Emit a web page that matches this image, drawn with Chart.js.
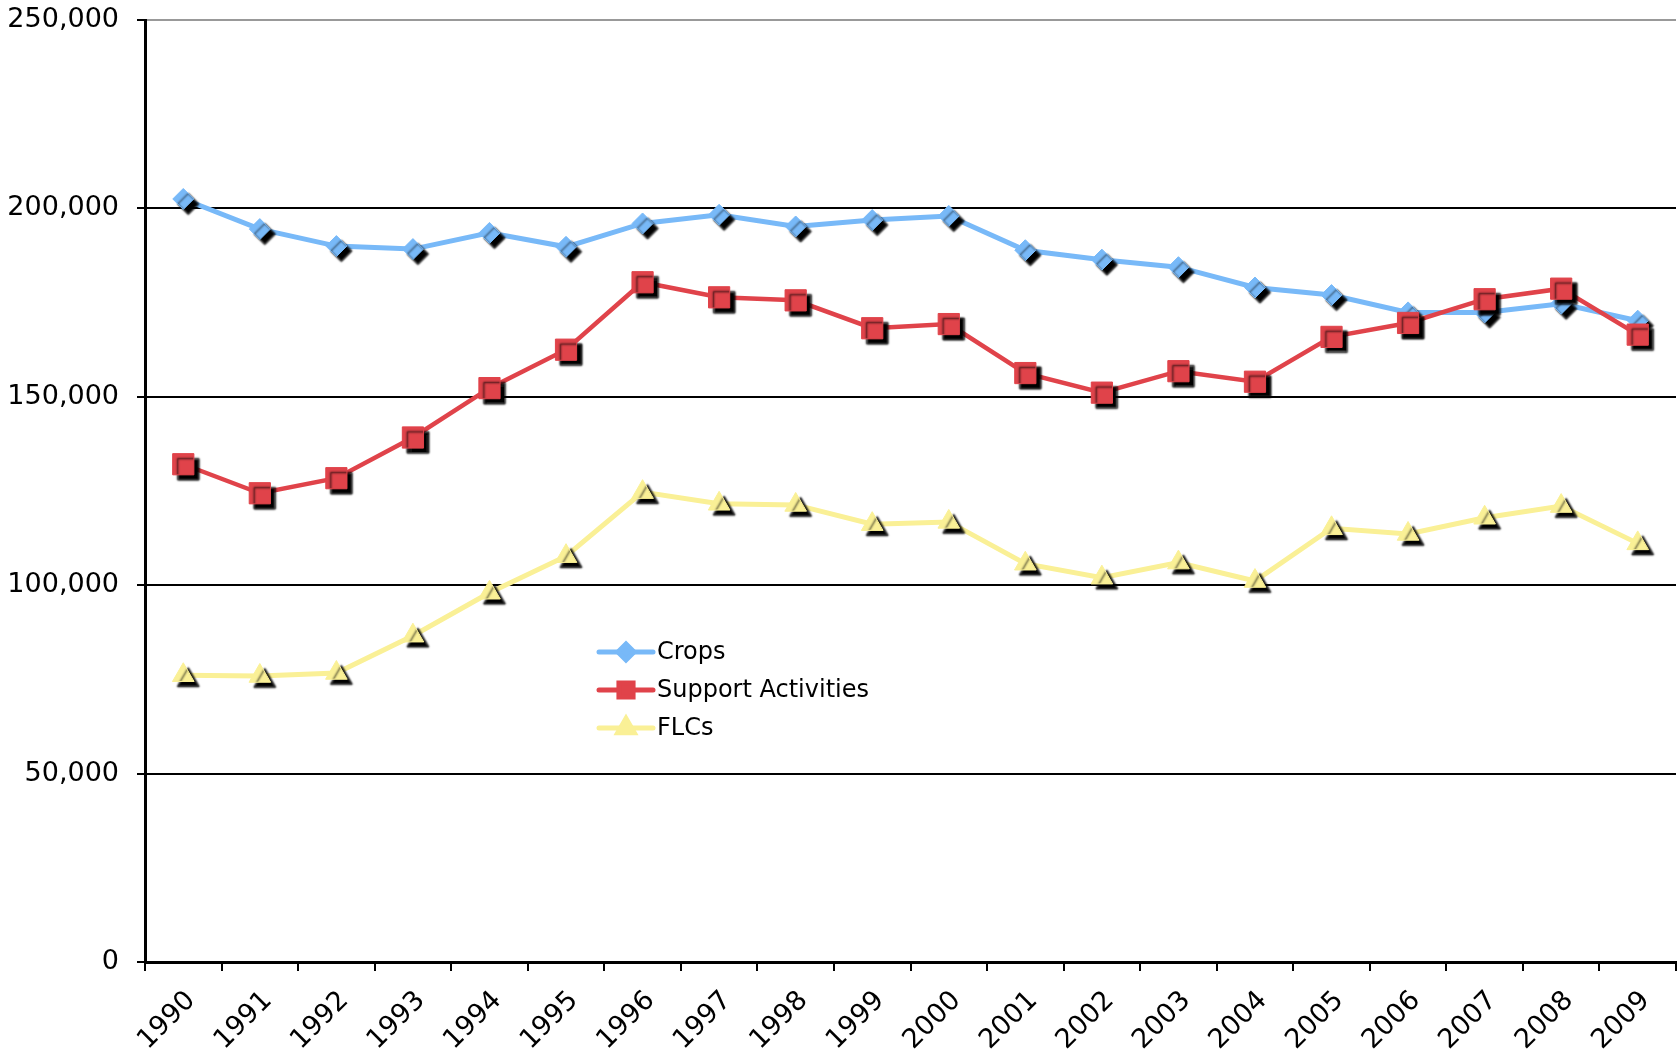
<!DOCTYPE html>
<html><head><meta charset="utf-8">
<script src="https://cdn.jsdelivr.net/npm/chart.js@4/dist/chart.umd.min.js"></script>
<style>html,body{margin:0;padding:0;background:#fff}canvas{display:block}</style>
</head><body>
<canvas id="c" width="1678" height="1055"></canvas>
<script>
const years = ['1990','1991','1992','1993','1994','1995','1996','1997','1998','1999','2000','2001','2002','2003','2004','2005','2006','2007','2008','2009'];
const crops = [202500,194500,190000,189200,193500,189800,196000,198300,195200,196900,198000,188900,186400,184400,179000,177000,172400,172400,174700,170200];
const support = [132100,124400,128400,139200,152300,162500,180400,176400,175600,168200,169300,156300,151100,156800,154000,165900,169600,175900,178700,166500];
const flcs = [76100,75900,76700,86600,98000,107700,124700,121600,121300,116200,116800,105700,102000,106000,101100,115100,113600,117900,121000,111100];
const seriesNames = ['Crops','Support Activities','FLCs'];
const yTicks = [0,50000,100000,150000,200000,250000];

const FONT = 'DejaVu Sans, Verdana, sans-serif';

// black drop shadow on markers only
const PointEl = Chart.registry.getElement('point');
const origDraw = PointEl.prototype.draw;
PointEl.prototype.draw = function(ctx, area){
  ctx.save();
  ctx.shadowColor = 'rgba(0,0,0,1)';
  ctx.shadowOffsetX = 5; ctx.shadowOffsetY = 5; ctx.shadowBlur = 2;
  origDraw.call(this, ctx, area);
  ctx.restore();
};

const inlineLegend = {
  id: 'inlineLegend',
  afterDraw(chart, args, opts){
    const ctx = chart.ctx;
    ctx.save();
    chart.data.datasets.forEach((ds, i) => {
      const y = opts.y + i*opts.rowGap;
      ctx.strokeStyle = ds.borderColor; ctx.lineWidth = 5; ctx.lineCap = 'round';
      ctx.beginPath(); ctx.moveTo(opts.x, y); ctx.lineTo(opts.x + opts.lineLen, y); ctx.stroke();
      ctx.fillStyle = ds.borderColor; ctx.strokeStyle = ds.borderColor;
      Chart.helpers.drawPoint(ctx, {pointStyle: ds.pointStyle, radius: opts.radius[i], rotation: 0, borderWidth: 1}, opts.x + opts.lineLen/2, y);
      ctx.fillStyle = '#000'; ctx.font = '24px ' + FONT; ctx.textBaseline = 'middle'; ctx.textAlign = 'left';
      ctx.fillText(ds.label, opts.x + opts.lineLen + 4, y + 1);
    });
    ctx.restore();
  }
};

new Chart(document.getElementById('c'), {
  type: 'line',
  data: {
    labels: years,
    datasets: [
      {label: seriesNames[0], data: crops, borderColor: '#78B9F8', backgroundColor: '#78B9F8', borderWidth: 5, pointStyle: 'rectRot', pointRadius: 10.5, pointBorderWidth: 1, tension: 0, order: 1, clip: false},
      {label: seriesNames[1], data: support, borderColor: '#E0434A', backgroundColor: '#E0434A', borderWidth: 4.5, pointStyle: 'rect', pointRadius: 15, pointBorderWidth: 1, tension: 0, order: 0, clip: false},
      {label: seriesNames[2], data: flcs, borderColor: '#FAF096', backgroundColor: '#FAF096', borderWidth: 5, pointStyle: 'triangle', pointRadius: 12.5, pointBorderWidth: 1, tension: 0, order: 2, clip: false}
    ]
  },
  options: {
    responsive: false, animation: false, devicePixelRatio: 1,
    layout: {autoPadding: false, padding: {top: 20, right: 2, left: 0, bottom: 0}},
    plugins: {
      legend: {display: false}, tooltip: {enabled: false},
      inlineLegend: {x: 599, y: 652, rowGap: 38, lineLen: 54, radius: [8, 10, 9.5]}
    },
    scales: {
      x: {
        type: 'category', offset: true,
        grid: {offset: true, drawOnChartArea: true,
          color: c => c.index === years.length ? '#999' : 'rgba(0,0,0,0)',
          lineWidth: 2, tickColor: '#000', tickLength: 9, tickWidth: 2},
        border: {color: '#000', width: 3},
        ticks: {color: '#000', font: {family: FONT, size: 27}, maxRotation: 45, minRotation: 45, padding: 14, labelOffset: 8, autoSkip: false},
        afterFit: s => { s.height = 93; s.paddingLeft = 0; s.paddingRight = 0; }
      },
      y: {
        min: 0, max: 250000,
        afterBuildTicks: s => { s.ticks = yTicks.map(v => ({value: v})); },
        ticks: {color: '#000', font: {family: FONT, size: 27}, padding: 18, callback: v => Number(v).toLocaleString('en-US')},
        grid: {color: c => (c.tick && c.tick.value === 250000) ? '#999' : '#000', lineWidth: 2, tickLength: 8, tickColor: '#000', tickWidth: 2},
        border: {color: '#000', width: 3},
        afterFit: s => { s.width = 145; s.paddingTop = 0; s.paddingBottom = 0; }
      }
    }
  },
  plugins: [inlineLegend]
});
</script>
</body></html>
